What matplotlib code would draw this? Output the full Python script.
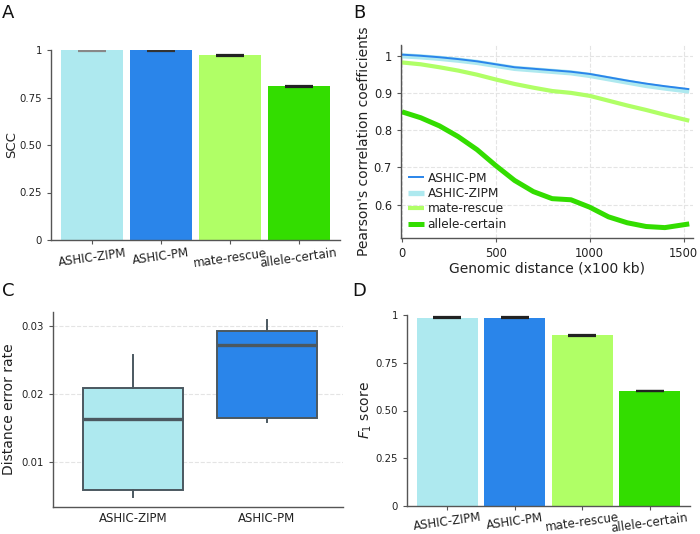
import matplotlib
matplotlib.use("Agg")
from matplotlib import pyplot as plt
import numpy as np

# categories and colours
methods = ["ASHIC-ZIPM", "ASHIC-PM", "mate-rescue", "allele-certain"]
colors = ["#aee9ef", "#2a85ea", "#b0ff66", "#33dd00"]

# panel A: SCC
scc = [0.998, 0.998, 0.973, 0.809]
scc_err = [0.002, 0.002, 0.002, 0.002]
bar_ticks = [0, 0.25, 0.5, 0.75, 1]
bar_ticklabels = ["0", "0.25", "0.50", "0.75", "1"]

# panel B: pearson correlation vs genomic distance
dist = [0, 100, 200, 300, 400, 500, 600, 700, 800, 900, 1000, 1100, 1200, 1300, 1400, 1530]
pm = [1.004, 1.001, 0.997, 0.992, 0.986, 0.978, 0.970, 0.966, 0.962, 0.958, 0.952, 0.943, 0.934, 0.926, 0.919, 0.911]
zipm = [1.001, 0.998, 0.994, 0.989, 0.983, 0.975, 0.967, 0.963, 0.959, 0.955, 0.948, 0.939, 0.930, 0.921, 0.914, 0.906]
rescue = [0.983, 0.978, 0.970, 0.961, 0.950, 0.937, 0.925, 0.915, 0.906, 0.901, 0.893, 0.880, 0.867, 0.855, 0.842, 0.826]
certain = [0.850, 0.834, 0.812, 0.783, 0.748, 0.705, 0.665, 0.635, 0.616, 0.613, 0.593, 0.567, 0.551, 0.541, 0.538, 0.548]
b_yticks = [0.6, 0.7, 0.8, 0.9, 1.0]
b_yticklabels = ["0.6", "0.7", "0.8", "0.9", "1"]
b_xticks = [0, 500, 1000, 1500]

# panel C: distance error rate box stats
box_labels = ["ASHIC-ZIPM", "ASHIC-PM"]
box_colors = ["#aee9ef", "#2a85ea"]
whislo = [0.0048, 0.0158]
q1 = [0.0059, 0.0164]
med = [0.0163, 0.0272]
q3 = [0.0209, 0.0292]
whishi = [0.0257, 0.0308]
c_yticks = [0.01, 0.02, 0.03]

# panel D: F1 score
f1 = [0.986, 0.985, 0.893, 0.602]
f1_err = [0.002, 0.002, 0.002, 0.002]

W, H = 700, 534
fig = plt.figure(figsize=(W / 100, H / 100), dpi=100)

spine_col = "#555555"
text_col = "#222222"
tick_fs = 7.3
cat_fs = 8.5
label_fs = 10


def make_ax(l, r, t, b):
  ax = fig.add_axes([l / W, (H - b) / H, (r - l) / W, (b - t) / H])
  for s in ["top", "right"]:
    ax.spines[s].set_visible(False)
  for s in ["left", "bottom"]:
    ax.spines[s].set_color(spine_col)
    ax.spines[s].set_linewidth(1.0)
  ax.tick_params(colors=spine_col, labelcolor=text_col, labelsize=tick_fs, length=3, width=0.8)
  return ax


def bar_panel(ax, vals, errs, ylabel, err_cols, ylab_fs, xpad):
  x = np.arange(len(methods))
  ax.bar(x, vals, width=0.9, color=colors, edgecolor="none")
  for i in range(len(x)):
    ax.errorbar(x[i], vals[i], yerr=errs[i], fmt="none", ecolor=err_cols[i],
                capsize=10, capthick=1.6, elinewidth=1.0)
  ax.set_xlim(-0.6, 3.6)
  ax.set_ylim(0, 1)
  ax.set_yticks(bar_ticks)
  ax.set_yticklabels(bar_ticklabels)
  ax.set_xticks(x)
  ax.set_xticklabels(methods, rotation=8, fontsize=cat_fs)
  ax.tick_params(axis="x", pad=xpad)
  ax.set_ylabel(ylabel, fontsize=ylab_fs, color=text_col, labelpad=1)


# A
axA = make_ax(51, 340, 50, 240)
bar_panel(axA, scc, scc_err, "SCC", ["#888888", "#333333", "#222222", "#222222"], 9.5, 1.5)

# B
axB = make_ax(401, 693, 45, 238)
axB.grid(True, ls="--", color="#e4e4e4", lw=0.8)
axB.set_axisbelow(True)
l_zipm, = axB.plot(dist, zipm, color="#aee9ef", lw=3.8, solid_capstyle="butt")
l_pm, = axB.plot(dist, pm, color="#2a85ea", lw=1.4, solid_capstyle="butt")
l_res, = axB.plot(dist, rescue, color="#b0ff66", lw=3.0, solid_capstyle="butt")
l_cer, = axB.plot(dist, certain, color="#33dd00", lw=3.6, solid_capstyle="butt")
axB.set_xlim(-5, 1550)
axB.set_ylim(0.51, 1.03)
axB.set_yticks(b_yticks)
axB.set_yticklabels(b_yticklabels)
axB.set_xticks(b_xticks)
axB.tick_params(labelsize=8.3)
axB.set_xlabel("Genomic distance (x100 kb)", fontsize=label_fs, color=text_col, labelpad=1)
axB.set_ylabel("Pearson's correlation coefficients", fontsize=label_fs, color=text_col, labelpad=2)
axB.legend([l_pm, l_zipm, l_res, l_cer], ["ASHIC-PM", "ASHIC-ZIPM", "mate-rescue", "allele-certain"],
           loc="lower left", frameon=False, fontsize=8.7, handlelength=1.3, handletextpad=0.3,
           labelspacing=0.2, borderaxespad=0.2, labelcolor=text_col)

# C
axC = make_ax(53, 343, 312, 507)
axC.grid(True, axis="y", ls="--", color="#e4e4e4", lw=0.8)
axC.set_axisbelow(True)
stats = []
for i in range(len(box_labels)):
  stats.append({"whislo": whislo[i], "q1": q1[i], "med": med[i], "q3": q3[i],
                "whishi": whishi[i], "fliers": [], "label": box_labels[i]})
bp = axC.bxp(stats, positions=[0, 1], widths=0.75, patch_artist=True, showcaps=False,
             boxprops=dict(edgecolor="#4b5860", linewidth=1.4),
             medianprops=dict(color="#4b5860", linewidth=2.4),
             whiskerprops=dict(color="#4b5860", linewidth=1.4))
for patch, c in zip(bp["boxes"], box_colors):
  patch.set_facecolor(c)
axC.set_xlim(-0.6, 1.57)
axC.set_ylim(0.0034, 0.032)
axC.set_yticks(c_yticks)
axC.tick_params(axis="x", labelsize=cat_fs, length=0)
axC.set_ylabel("Distance error rate", fontsize=label_fs, color=text_col)

# D
axD = make_ax(407, 690, 315, 506)
bar_panel(axD, f1, f1_err, "$F_1$ score", ["#222222"] * 4, label_fs, 0.5)

# panel letters
for lab, x, y in [("A", 2, 18), ("B", 353, 18), ("C", 2, 296), ("D", 352, 296)]:
  fig.text(x / W, 1 - y / H, lab, fontsize=13, color="#111111", ha="left", va="baseline")

fig.savefig("out.png", dpi=100)
